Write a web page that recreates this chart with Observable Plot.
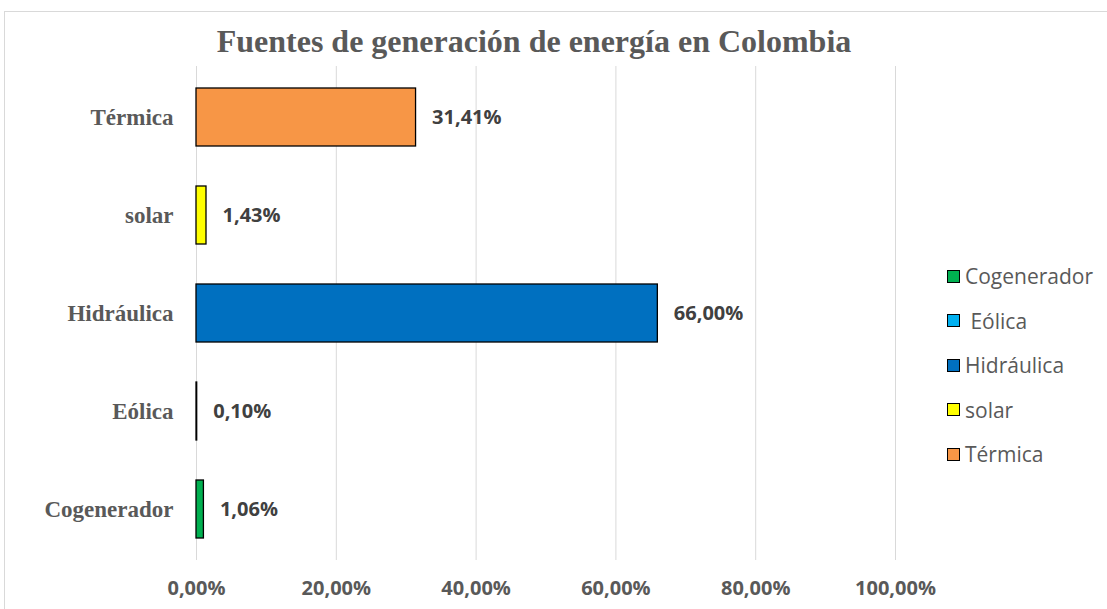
<!DOCTYPE html>
<html>
<head>
<meta charset="utf-8">
<script src="https://cdn.jsdelivr.net/npm/d3@7"></script>
<script src="https://cdn.jsdelivr.net/npm/@observablehq/plot@0.6"></script>
<style>
  html, body { margin: 0; padding: 0; background: #fff; }
  #wrap { position: relative; width: 1107px; height: 609px; overflow: hidden; }
  #frame { position: absolute; left: 4px; top: 11px; width: 1120px; height: 620px; border: 1px solid #d9d9d9; box-sizing: border-box; }
  #title { position: absolute; left: 0; top: 22px; width: 1068px; text-align: center;
    font-family: "Liberation Serif", "Times New Roman", serif; font-weight: bold; font-size: 32px; color: #595959; line-height: 1.2; }
  #chart { position: absolute; left: 0; top: 0; }
  #legend { position: absolute; left: 947px; top: 254px; font-family: "Open Sans", "Liberation Sans", sans-serif; font-size: 21px; color: #595959; }
  .li { display: flex; align-items: center; height: 44.5px; white-space: pre; }
  .sw { width: 11px; height: 11px; border: 1.5px solid #000; margin-right: 5px; }
</style>
</head>
<body>
<div id="wrap">
  <div id="frame"></div>
  <div id="chart"></div>
  <div id="title">Fuentes de generación de energía en Colombia</div>
  <div id="legend"></div>
</div>
<script>
const categories = ["Térmica", "solar", "Hidráulica", "Eólica", "Cogenerador"];
const values = [0.3141, 0.0143, 0.66, 0.001, 0.0106];
const colors = ["#F79646", "#FFFF00", "#0070C0", "#00B0F0", "#00B050"];
const legendOrder = ["Cogenerador", " Eólica", "Hidráulica", "solar", "Térmica"];
const legendColors = ["#00B050", "#00B0F0", "#0070C0", "#FFFF00", "#F79646"];
const xTicks = [0, 0.2, 0.4, 0.6, 0.8, 1.0];

const loc = d3.formatLocale({decimal: ",", thousands: ".", grouping: [3], currency: ["", "€"]});
const pct = loc.format(".2%");

const data = categories.map((c, i) => ({cat: c, val: values[i], color: colors[i]}));

const chart = Plot.plot({
  width: 1107,
  height: 609,
  marginLeft: 196,
  marginRight: 212,
  marginTop: 66,
  marginBottom: 49,
  style: {background: "transparent", overflow: "visible"},
  x: {domain: [0, 1], axis: null, label: null},
  y: {domain: categories, paddingInner: 0.41, paddingOuter: 0.205, axis: null, label: null},
  marks: [
    Plot.gridX(xTicks, {stroke: "#d9d9d9", strokeOpacity: 1, strokeWidth: 1}),
    Plot.axisX(xTicks, {tickFormat: pct, tickSize: 0, tickPadding: 20, fontSize: 20, fontWeight: "bold", label: null,
      fontFamily: "Open Sans, Liberation Sans, sans-serif", fill: "#595959"}),
    Plot.axisY(categories, {tickSize: 0, tickPadding: 23, fontSize: 23, fontWeight: "bold", label: null,
      fontFamily: "Liberation Serif, Times New Roman, serif", fill: "#595959"}),
    Plot.barX(data, {x: "val", y: "cat", fill: "color", stroke: "#000", strokeWidth: 1.3}),
    Plot.text(data, {x: "val", y: "cat", text: d => pct(d.val), textAnchor: "start", dx: 16,
      fontSize: 20, fontWeight: "bold", fontFamily: "Open Sans, Liberation Sans, sans-serif", fill: "#404040"})
  ]
});
document.getElementById("chart").appendChild(chart);

const lg = document.getElementById("legend");
legendOrder.forEach((name, i) => {
  const row = document.createElement("div");
  row.className = "li";
  const sw = document.createElement("div");
  sw.className = "sw";
  sw.style.background = legendColors[i];
  const tx = document.createElement("span");
  tx.textContent = name;
  row.appendChild(sw);
  row.appendChild(tx);
  lg.appendChild(row);
});
</script>
</body>
</html>
